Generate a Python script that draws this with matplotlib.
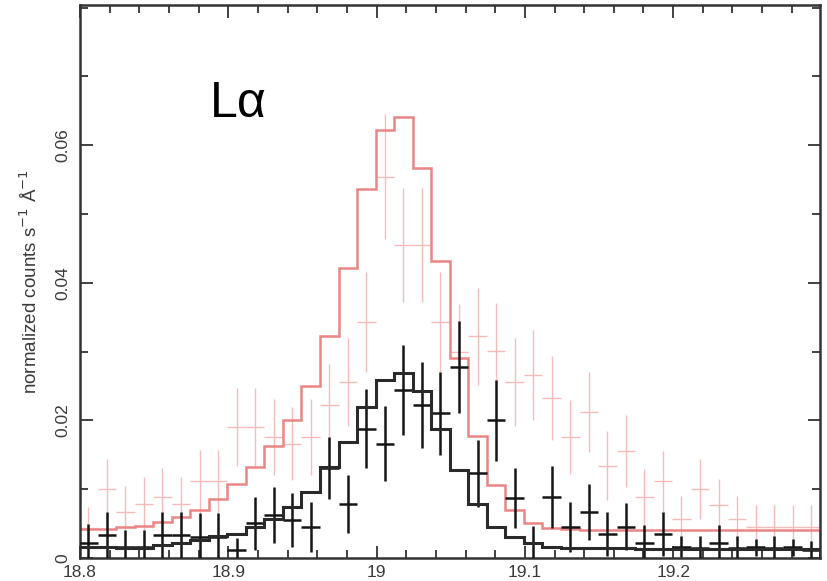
import numpy as np
import matplotlib
matplotlib.use("Agg")
import matplotlib.pyplot as plt
from matplotlib.ticker import MultipleLocator, FixedLocator, FuncFormatter

plt.rcParams["font.family"] = ["Liberation Sans", "DejaVu Sans"]

# Bin centres (Angstrom)
wave = [18.8056, 18.8181, 18.8306, 18.8431, 18.8556, 18.8681, 18.8806, 18.8931,
        18.9056, 18.9181, 18.9306, 18.9431, 18.9556, 18.9681, 18.9806, 18.9931,
        19.0056, 19.0181, 19.0306, 19.0431, 19.0556, 19.0681, 19.0806, 19.0931,
        19.1056, 19.1181, 19.1306, 19.1431, 19.1556, 19.1681, 19.1806, 19.1931,
        19.2056, 19.2181, 19.2306, 19.2431, 19.2556, 19.2681, 19.2806, 19.2931]
bin_half = 0.00625

x_ticks = [18.8, 18.9, 19.0, 19.1, 19.2]
y_ticks = [0.0, 0.02, 0.04, 0.06]

# black spectrum: data, errors, model
black_data = [0.0022, 0.0033, 0.0015, 0.0015, 0.0033, 0.0033, 0.0030, 0.0030,
              0.0011, 0.0050, 0.0062, 0.0055, 0.0045, 0.0130, 0.0078, 0.0188,
              0.0166, 0.0244, 0.0222, 0.0210, 0.0278, 0.0123, 0.0200, 0.0087,
              0.0021, 0.0088, 0.0045, 0.0067, 0.0034, 0.0045, 0.0022, 0.0034,
              0.0016, 0.0014, 0.0022, 0.0014, 0.0015, 0.0014, 0.0015, 0.0012]
black_err = [0.0027, 0.0033, 0.0025, 0.0025, 0.0033, 0.0033, 0.0035, 0.0035,
             0.0018, 0.0039, 0.0041, 0.0039, 0.0036, 0.0045, 0.0042, 0.0058,
             0.0055, 0.0065, 0.0063, 0.0060, 0.0067, 0.0049, 0.0059, 0.0044,
             0.0025, 0.0045, 0.0036, 0.0041, 0.0032, 0.0034, 0.0025, 0.0032,
             0.0015, 0.0018, 0.0025, 0.0018, 0.0013, 0.0018, 0.0013, 0.0013]
black_model = [0.0015, 0.0015, 0.0014, 0.0014, 0.0018, 0.0022, 0.0026, 0.0031,
               0.0035, 0.0045, 0.0057, 0.0074, 0.0096, 0.0132, 0.0169, 0.0220,
               0.0259, 0.0269, 0.0243, 0.0188, 0.0127, 0.0078, 0.0045, 0.0030,
               0.0021, 0.0016, 0.0014, 0.0014, 0.0014, 0.0014, 0.0013, 0.0013,
               0.0013, 0.0013, 0.0013, 0.0013, 0.0013, 0.0013, 0.0013, 0.0013]

# red spectrum: data, errors, model
red_data = [0.0043, 0.0100, 0.0067, 0.0078, 0.0088, 0.0078, 0.0111, 0.0111,
            0.0190, 0.0190, 0.0176, 0.0166, 0.0176, 0.0222, 0.0255, 0.0343,
            0.0554, 0.0455, 0.0455, 0.0343, 0.0300, 0.0322, 0.0301, 0.0255,
            0.0266, 0.0232, 0.0176, 0.0212, 0.0134, 0.0155, 0.0088, 0.0111,
            0.0056, 0.0100, 0.0077, 0.0056, 0.0045, 0.0045, 0.0045, 0.0045]
red_err = [0.0031, 0.0044, 0.0037, 0.0040, 0.0042, 0.0040, 0.0046, 0.0046,
           0.0057, 0.0057, 0.0055, 0.0053, 0.0055, 0.0060, 0.0064, 0.0073,
           0.0091, 0.0083, 0.0083, 0.0073, 0.0069, 0.0071, 0.0069, 0.0064,
           0.0065, 0.0061, 0.0054, 0.0058, 0.0050, 0.0052, 0.0041, 0.0045,
           0.0034, 0.0043, 0.0038, 0.0034, 0.0032, 0.0032, 0.0032, 0.0032]
red_model = [0.0042, 0.0042, 0.0045, 0.0046, 0.0052, 0.0059, 0.0069, 0.0085,
             0.0107, 0.0132, 0.0162, 0.0200, 0.0250, 0.0322, 0.0421, 0.0536,
             0.0622, 0.0641, 0.0567, 0.0432, 0.0291, 0.0177, 0.0106, 0.0069,
             0.0050, 0.0044, 0.0042, 0.0040, 0.0040, 0.0040, 0.0040, 0.0040,
             0.0040, 0.0040, 0.0040, 0.0040, 0.0040, 0.0040, 0.0040, 0.0040]

wave = np.array(wave)
edges = np.append(wave - bin_half, wave[-1] + bin_half)

fig = plt.figure(figsize=(8.28, 5.81), dpi=100)
ax = fig.add_axes([0.0966, 0.040, 0.8937, 0.9514])

# red (faint) data + model
ax.errorbar(wave, red_data, yerr=red_err, xerr=bin_half, fmt="none",
            ecolor="#f6bcbc", elinewidth=1.0, capsize=0, zorder=1)
ax.stairs(red_model, edges, color="#ec8585", linewidth=1.8, zorder=2)

# black data + model
ax.errorbar(wave, black_data, yerr=black_err, xerr=bin_half, fmt="none",
            ecolor="#151515", elinewidth=1.8, capsize=0, zorder=3)
ax.stairs(black_model, edges, color="#2a2a2a", linewidth=2.2, zorder=4)

ax.set_xlim(18.8, 19.299)
ax.set_ylim(0, 0.0804)

ax.xaxis.set_major_locator(FixedLocator(x_ticks))
ax.xaxis.set_minor_locator(MultipleLocator(0.02))
ax.yaxis.set_major_locator(FixedLocator(y_ticks))
ax.yaxis.set_minor_locator(MultipleLocator(0.01))
fmt = FuncFormatter(lambda v, p: "%g" % round(v, 4))
ax.xaxis.set_major_formatter(fmt)
ax.yaxis.set_major_formatter(fmt)

ax.tick_params(which="both", direction="in", top=True, right=True,
               color="#333333", width=1.3, labelcolor="#3a3a3a", labelsize=12.5)
ax.tick_params(which="major", length=9)
ax.tick_params(which="minor", length=6)
ax.tick_params(axis="x", pad=5)
ax.tick_params(axis="y", pad=7)
for lab in ax.get_yticklabels():
    lab.set_rotation(90)
    lab.set_va("center")

for s in ax.spines.values():
    s.set_color("#333333")
    s.set_linewidth(1.8)

ax.set_ylabel("normalized counts s$^{-1}$ Å$^{-1}$", fontsize=13.5,
              color="#3a3a3a", labelpad=10)

ax.text(18.8877, 0.0641, "Lα", fontsize=36, color="black", va="baseline")

fig.savefig("out.png", dpi=100)
